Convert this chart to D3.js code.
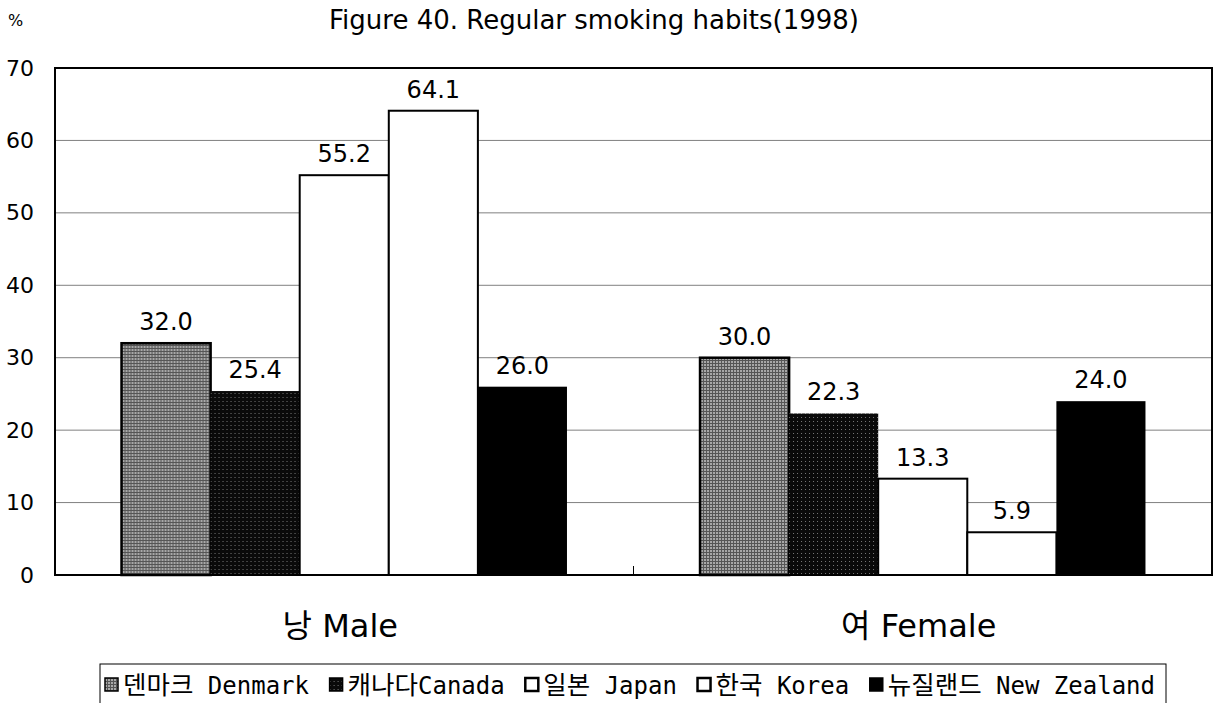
<!DOCTYPE html>
<html>
<head>
<meta charset="utf-8">
<script src="https://cdn.jsdelivr.net/npm/d3@7"></script>
<style>
  body { margin: 0; background: #fff; }
  svg { display: block; }
</style>
</head>
<body>
<svg id="chart" width="1221" height="703"></svg>
<script>
// ---- data ----
const categories = ["낭 Male", "여 Female"];
const seriesNames = ["덴마크 Denmark", "캐나다Canada", "일본 Japan", "한국 Korea", "뉴질랜드 New Zealand"];
const denmark = [32.0, 30.0];
const canada = [25.4, 22.3];
const japan = [55.2, 13.3];
const korea = [64.1, 5.9];
const newZealand = [26.0, 24.0];
const yTicks = [0, 10, 20, 30, 40, 50, 60, 70];
const titleText = "Figure 40. Regular smoking habits(1998)";
const unitText = "%";

const seriesValues = [denmark, canada, japan, korea, newZealand];

const svg = d3.select("#chart");
const plot = { left: 55, right: 1212, top: 68, bottom: 575 };
const FONT = "'DejaVu Sans', 'Noto Sans CJK KR', sans-serif";
const FONT_MONO = "'DejaVu Sans Mono', monospace";
const FONT_KR = "'Noto Sans CJK KR', sans-serif";

// patterns
const defs = svg.append("defs");
const pDen = defs.append("pattern").attr("id", "pDen").attr("patternUnits", "userSpaceOnUse")
  .attr("width", 3).attr("height", 3);
pDen.append("rect").attr("width", 3).attr("height", 3).attr("fill", "#a8a8a8");
pDen.append("rect").attr("width", 3).attr("height", 1).attr("fill", "#555");
pDen.append("rect").attr("width", 1).attr("height", 3).attr("fill", "#555");
const pCan = defs.append("pattern").attr("id", "pCan").attr("patternUnits", "userSpaceOnUse")
  .attr("width", 4).attr("height", 4);
pCan.append("rect").attr("width", 4).attr("height", 4).attr("fill", "#0a0a0a");
pCan.append("rect").attr("x", 1).attr("y", 1).attr("width", 1).attr("height", 1).attr("fill", "#777");

const styles = [
  { fill: "url(#pDen)", stroke: "#000", sw: 2.5 },
  { fill: "url(#pCan)", stroke: "none", sw: 0 },
  { fill: "#fff", stroke: "#000", sw: 2 },
  { fill: "#fff", stroke: "#000", sw: 2 },
  { fill: "#000", stroke: "none", sw: 0 }
];

const x0 = d3.scaleBand().domain(categories).range([plot.left, plot.right])
  .paddingInner(0.23).paddingOuter(0.115);
const x1 = d3.scaleBand().domain(d3.range(seriesNames.length)).range([0, x0.bandwidth()]);
const y = d3.scaleLinear().domain([0, 70]).range([plot.bottom, plot.top]);

// gridlines
svg.append("g").selectAll("line").data(yTicks.filter(d => d > 0 && d < 70)).join("line")
  .attr("x1", plot.left).attr("x2", plot.right)
  .attr("y1", d => y(d)).attr("y2", d => y(d))
  .attr("stroke", "#808080").attr("stroke-width", 1);

// y axis labels
const yAxis = d3.axisLeft(y).tickValues(yTicks).tickSize(0).tickPadding(21).tickFormat(d3.format("d"));
const ya = svg.append("g").attr("transform", `translate(${plot.left},0)`).call(yAxis);
ya.select(".domain").remove();
ya.selectAll("text").style("font-size", "22px").style("font-family", FONT).attr("fill", "#000");

// bars
const groups = svg.append("g").selectAll("g").data(categories).join("g")
  .attr("transform", d => `translate(${x0(d)},0)`);
groups.selectAll("rect").data((c, ci) => seriesValues.map((vals, si) => ({ si, v: vals[ci] }))).join("rect")
  .attr("x", d => x1(d.si)).attr("width", x1.bandwidth())
  .attr("y", d => y(d.v)).attr("height", d => y(0) - y(d.v))
  .attr("fill", d => styles[d.si].fill)
  .attr("stroke", d => styles[d.si].stroke)
  .attr("stroke-width", d => styles[d.si].sw);

groups.selectAll("text.val").data((c, ci) => seriesValues.map((vals, si) => ({ si, v: vals[ci] }))).join("text")
  .attr("class", "val")
  .attr("x", d => x1(d.si) + x1.bandwidth() / 2)
  .attr("y", d => y(d.v) - 13)
  .attr("text-anchor", "middle")
  .style("font-size", "24px").style("font-family", FONT).attr("fill", "#000")
  .text(d => d.v.toFixed(1));

// frame
svg.append("rect").attr("x", plot.left).attr("y", plot.top)
  .attr("width", plot.right - plot.left).attr("height", plot.bottom - plot.top)
  .attr("fill", "none").attr("stroke", "#000").attr("stroke-width", 2);

// category axis
const xAxis = d3.axisBottom(x0).tickSize(0).tickPadding(39);
const xa = svg.append("g").attr("transform", `translate(-4,${plot.bottom})`).call(xAxis);
xa.select(".domain").remove();
xa.selectAll("text").style("font-size", "32px").style("font-family", FONT).attr("fill", "#000");
const midX = (x0(categories[0]) + x0.bandwidth() + x0(categories[1])) / 2;
svg.append("line")
  .attr("x1", midX).attr("x2", midX)
  .attr("y1", plot.bottom).attr("y2", plot.bottom - 9)
  .attr("stroke", "#000").attr("stroke-width", 1);

// title and unit
svg.append("text").attr("x", 594).attr("y", 29).attr("text-anchor", "middle")
  .style("font-size", "26px").style("font-family", FONT).attr("fill", "#000").text(titleText);
svg.append("text").attr("x", 8).attr("y", 26)
  .style("font-size", "16px").style("font-family", FONT).attr("fill", "#000").text(unitText);

// legend
const lg = svg.append("g");
lg.append("rect").attr("x", 100).attr("y", 664).attr("width", 1066).attr("height", 50)
  .attr("fill", "#fff").attr("stroke", "#000").attr("stroke-width", 1);
const legStart = 104, legEnd = 1155, sw = 15;
const items = seriesNames.map((name, i) => {
  const g = lg.append("g");
  g.append("rect").attr("x", 1).attr("y", 678).attr("width", sw - 2).attr("height", sw - 2)
    .attr("fill", styles[i].fill).attr("stroke", "#000").attr("stroke-width", i >= 2 && i <= 3 ? 2.5 : 1.5);
  const t = g.append("text").attr("x", sw + 4).attr("y", 694).attr("fill", "#000");
  const parts = name.match(/[\uAC00-\uD7A3]+|[^\uAC00-\uD7A3]+/g);
  parts.forEach(p => {
    const kr = /[\uAC00-\uD7A3]/.test(p);
    t.append("tspan").text(p)
      .style("font-family", kr ? FONT_KR : FONT_MONO)
      .style("font-size", kr ? "25.5px" : "24px");
  });
  return { g, w: sw + 4 + t.node().getComputedTextLength() };
});
const totalW = d3.sum(items, d => d.w);
const gap = (legEnd - legStart - totalW) / (items.length - 1);
let lx = legStart;
items.forEach(it => { it.g.attr("transform", `translate(${lx},0)`); lx += it.w + gap; });
</script>
</body>
</html>
